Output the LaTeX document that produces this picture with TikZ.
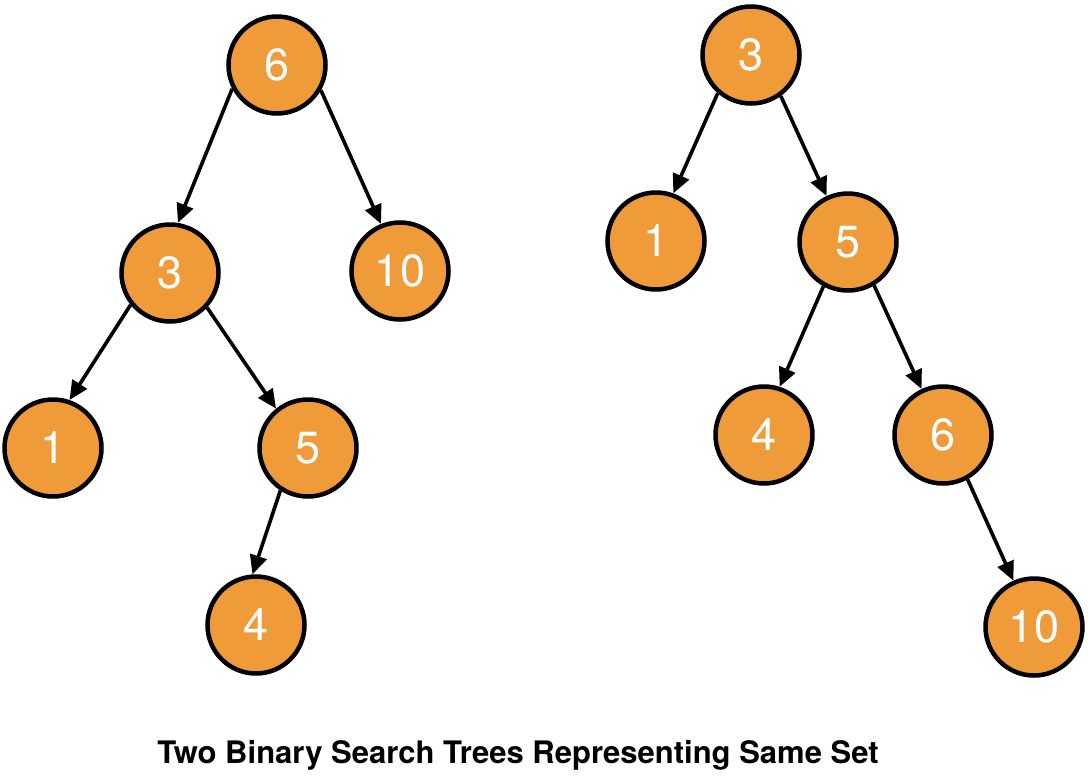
\documentclass[tikz,border=0pt]{standalone}
\usepackage{fontspec}
\setmainfont{TeX Gyre Heros}
\usetikzlibrary{arrows.meta}
\definecolor{nodeorange}{HTML}{F09B3A}
\tikzset{
  treenode/.style={circle, draw=black, line width=4.5pt, fill=nodeorange,
    minimum size=97pt, inner sep=0pt, text=white,
    font=\fontsize{45}{45}\selectfont},
  edge/.style={line width=3.6pt, -{Triangle[length=19pt,width=17pt]}},
  caption/.style={font=\bfseries\fontsize{31}{31}\selectfont, text=black}
}
\begin{document}
\begin{tikzpicture}[x=1pt,y=-1pt]
\useasboundingbox[fill=white] (0,0) rectangle (1088,780);
% left tree
\node[treenode] (l6) at (277,65) {6};
\node[treenode] (l3) at (170,273) {3};
\node[treenode] (l10) at (400,271) {10};
\node[treenode] (l1) at (53,448) {1};
\node[treenode] (l5) at (308,448) {5};
\node[treenode] (l4) at (256,625) {4};
% right tree
\node[treenode] (r3) at (751,55) {3};
\node[treenode] (r1) at (656,241) {1};
\node[treenode] (r5) at (848,242) {5};
\node[treenode] (r4) at (764,435) {4};
\node[treenode] (r6) at (943,435) {6};
\node[treenode] (r10) at (1034,627) {10};
% edges
\draw[edge] (l6.208) -- (l3.81);
\draw[edge] (l6.330) -- (l10.112);
\draw[edge] (l3.219) -- (l1.71);
\draw[edge] (l3.317) -- (l5.129);
\draw[edge] (l5.237.5) -- (l4.94);
\draw[edge] (r3.229) -- (r1.70.5);
\draw[edge] (r3.306) -- (r5.115);
\draw[edge] (r5.241) -- (r4.72);
\draw[edge] (r5.301) -- (r6.115);
\draw[edge] (r6.299) -- (r10.114);
% caption
\node[caption] (cap) at (518,755) {Two Binary Search Trees Representing Same Set};
\end{tikzpicture}
\end{document}
